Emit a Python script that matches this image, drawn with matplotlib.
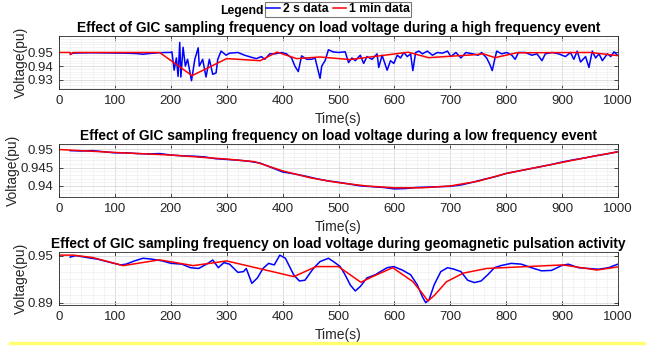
import matplotlib
matplotlib.use("Agg")
import matplotlib.pyplot as plt
from matplotlib.ticker import AutoMinorLocator, FixedLocator
from matplotlib.lines import Line2D

plt.rcParams['font.family'] = ['Liberation Sans', 'DejaVu Sans']

# ---------------- Panel 1: high frequency event ----------------
t1_blue = [20, 25, 40, 60, 80, 100, 120, 140, 150, 160, 175, 190, 199, 202, 206, 210, 213, 216, 218, 222,
           226, 230, 237, 243, 249, 251, 257, 263, 269, 275, 281, 284, 290, 299, 305, 320, 332, 344, 353, 362,
           368, 377, 386, 398, 407, 416, 422, 428, 434, 443, 452, 458, 467, 470, 476, 482, 490, 500, 512, 518,
           524, 530, 539, 545, 551, 560, 569, 572, 578, 587, 593, 599, 605, 611, 617, 623, 629, 633, 638, 644,
           650, 659, 668, 677, 686, 695, 701, 710, 719, 728, 740, 750, 756, 765, 771, 775, 780, 783, 792, 801,
           810, 816, 822, 834, 846, 855, 864, 870, 882, 894, 906, 915, 921, 927, 933, 942, 948, 954, 960, 966,
           972, 981, 987, 993, 999]
v1_blue = [0.9488, 0.9495, 0.9497, 0.9498, 0.9497, 0.9496, 0.9495, 0.9492, 0.9487, 0.9492, 0.9497, 0.9500, 0.9500, 0.9505, 0.9370, 0.9460, 0.9324, 0.9574, 0.9320, 0.9538,
           0.9400, 0.9450, 0.9293, 0.9450, 0.9534, 0.9400, 0.9450, 0.9320, 0.9450, 0.9340, 0.9350, 0.9450, 0.9510, 0.9480, 0.9495, 0.9500, 0.9480, 0.9465, 0.9455, 0.9470,
           0.9450, 0.9490, 0.9490, 0.9500, 0.9490, 0.9460, 0.9400, 0.9360, 0.9475, 0.9450, 0.9450, 0.9460, 0.9310, 0.9400, 0.9440, 0.9520, 0.9505, 0.9500, 0.9505, 0.9426,
           0.9460, 0.9440, 0.9480, 0.9420, 0.9470, 0.9450, 0.9490, 0.9390, 0.9480, 0.9370, 0.9440, 0.9420, 0.9480, 0.9460, 0.9500, 0.9470, 0.9490, 0.9367, 0.9500, 0.9510,
           0.9490, 0.9510, 0.9480, 0.9500, 0.9495, 0.9510, 0.9470, 0.9500, 0.9460, 0.9500, 0.9490, 0.9480, 0.9500, 0.9460, 0.9410, 0.9367, 0.9460, 0.9510, 0.9490, 0.9500,
           0.9480, 0.9450, 0.9500, 0.9500, 0.9480, 0.9490, 0.9440, 0.9490, 0.9500, 0.9490, 0.9470, 0.9500, 0.9450, 0.9510, 0.9430, 0.9470, 0.9390, 0.9510, 0.9460, 0.9490,
           0.9440, 0.9490, 0.9470, 0.9505, 0.9480]
t1_red = [0, 20, 21, 25, 180, 238, 300, 360, 390, 425, 467, 520, 625, 661, 741, 759, 780, 819, 950, 1000]
v1_red = [0.9500, 0.9500, 0.9485, 0.9500, 0.9500, 0.9330, 0.9455, 0.9440, 0.9503, 0.9455, 0.9467, 0.9448,
          0.9502, 0.9462, 0.9483, 0.9490, 0.9462, 0.9498, 0.9500, 0.9477]

# ---------------- Panel 2: low frequency event ----------------
t2_blue = [20, 40, 60, 80, 100, 120, 140, 160, 180, 200, 220, 240, 260, 280, 300, 320, 340, 360, 380, 400,
           420, 440, 460, 480, 500, 520, 540, 560, 580, 600, 620, 640, 660, 680, 700, 720, 740, 760, 780, 800,
           820, 840, 860, 880, 900, 920, 940, 960, 980, 1000]
v2_blue = [0.9496, 0.9495, 0.9496, 0.9493, 0.9490, 0.9490, 0.9488, 0.9487, 0.9488, 0.9484, 0.9482, 0.9481, 0.9479, 0.9474, 0.9472, 0.9470, 0.9467, 0.9462, 0.9450, 0.9438,
           0.9433, 0.9427, 0.9420, 0.9414, 0.9410, 0.9405, 0.9400, 0.9398, 0.9396, 0.9392, 0.9393, 0.9396, 0.9397, 0.9398, 0.9399, 0.9403, 0.9410, 0.9418, 0.9425, 0.9434,
           0.9440, 0.9446, 0.9452, 0.9458, 0.9465, 0.9471, 0.9476, 0.9482, 0.9487, 0.9493]
t2_red = [0, 100, 200, 300, 350, 400, 450, 480, 500, 550, 600, 650, 700, 750, 800, 850, 900, 950, 1000]
v2_red = [0.9499, 0.9491, 0.9484, 0.9473, 0.9466, 0.9441, 0.9422, 0.9414, 0.9409, 0.9400, 0.9395, 0.9395,
          0.9400, 0.9413, 0.9434, 0.9449, 0.9464, 0.9479, 0.9493]

# ---------------- Panel 3: geomagnetic pulsation ----------------
t3_blue = [20, 30, 50, 70, 90, 110, 120, 135, 150, 165, 185, 200, 220, 235, 250, 265, 275, 285, 295, 305,
           320, 330, 335, 345, 355, 365, 375, 385, 395, 405, 420, 430, 440, 455, 467, 482, 491, 503, 512, 521,
           530, 539, 551, 566, 575, 587, 599, 614, 629, 641, 650, 656, 662, 671, 683, 695, 707, 719, 731, 743,
           755, 767, 779, 791, 809, 827, 845, 863, 881, 899, 911, 929, 947, 965, 983, 1000]
v3_blue = [0.9485, 0.9504, 0.9480, 0.9457, 0.9420, 0.9385, 0.9395, 0.9436, 0.9470, 0.9460, 0.9436, 0.9406, 0.9395, 0.9350, 0.9340, 0.9400, 0.9448, 0.9350, 0.9415, 0.9395,
           0.9290, 0.9300, 0.9340, 0.9150, 0.9220, 0.9340, 0.9405, 0.9385, 0.9510, 0.9470, 0.9257, 0.9180, 0.9190, 0.9340, 0.9428, 0.9470, 0.9428, 0.9364, 0.9257, 0.9130,
           0.9053, 0.9110, 0.9220, 0.9260, 0.9300, 0.9350, 0.9364, 0.9320, 0.9260, 0.9130, 0.8980, 0.8904, 0.8940, 0.9130, 0.9300, 0.9350, 0.9330, 0.9300, 0.9190, 0.9160,
           0.9180, 0.9260, 0.9350, 0.9377, 0.9405, 0.9395, 0.9350, 0.9310, 0.9315, 0.9377, 0.9395, 0.9350, 0.9340, 0.9330, 0.9350, 0.9395]
t3_red = [0, 25, 60, 115, 180, 240, 300, 420, 460, 500, 540, 561, 597, 633, 648, 660, 672, 693, 723, 765,
          825, 902, 962, 1000]
v3_red = [0.9510, 0.9510, 0.9480, 0.9376, 0.9450, 0.9376, 0.9436, 0.9236, 0.9364, 0.9364, 0.9164, 0.9236,
          0.9350, 0.9172, 0.9040, 0.8925, 0.9000, 0.9170, 0.9280, 0.9340, 0.9360, 0.9385, 0.9320, 0.9360]

titles = ["Effect of GIC sampling frequency on load voltage during a high frequency event",
          "Effect of GIC sampling frequency on load voltage during a low frequency event",
          "Effect of GIC sampling frequency on load voltage during geomagnetic pulsation activity"]
yticks_list = [[0.93, 0.94, 0.95], [0.94, 0.945, 0.95], [0.89, 0.95]]
yticklabels_list = [["0.93", "0.94", "0.95"], ["0.94", "0.945", "0.95"], ["0.89", "0.95"]]
ylims = [(0.9232, 0.9621), (0.9370, 0.9514), (0.8874, 0.9550)]
xticks = [0, 100, 200, 300, 400, 500, 600, 700, 800, 900, 1000]

W, H = 646, 346
fig = plt.figure(figsize=(W / 100, H / 100), dpi=100)
fig.patch.set_facecolor('white')

tops = [36, 144, 252]
ax_h = 53
left_px, right_px = 59, 618
series = [(t1_blue, v1_blue, t1_red, v1_red), (t2_blue, v2_blue, t2_red, v2_red), (t3_blue, v3_blue, t3_red, v3_red)]
edge = '#262626'
handles = None
for i in range(3):
    ax = fig.add_axes([left_px / W, 1 - (tops[i] + ax_h) / H, (right_px - left_px) / W, ax_h / H])
    tb, vb, tr, vr = series[i]
    hb, = ax.plot(tb, vb, color='#0000ff', lw=1.1)
    hr, = ax.plot(tr, vr, color='#ff0000', lw=1.1)
    handles = [hb, hr]
    ax.set_xlim(0, 1000)
    ax.set_ylim(*ylims[i])
    ax.set_xticks(xticks)
    ax.set_yticks(yticks_list[i])
    ax.set_yticklabels(yticklabels_list[i])
    ax.xaxis.set_minor_locator(AutoMinorLocator(5))
    if i == 2:
        ax.yaxis.set_minor_locator(FixedLocator([0.90, 0.91, 0.92, 0.93, 0.94]))
    else:
        ax.yaxis.set_minor_locator(AutoMinorLocator(5))
    ax.grid(True, which='major', color='#d9d9d9', lw=0.6)
    ax.grid(True, which='minor', color='#eeeeee', lw=0.5)
    ax.set_axisbelow(True)
    ax.tick_params(which='major', direction='in', length=3, width=0.6, colors=edge,
                   labelsize=9.5, top=True, right=True, pad=4, labelcolor='#262626')
    ax.tick_params(which='minor', length=0, top=True, right=True)
    for sp in ax.spines.values():
        sp.set_color(edge)
        sp.set_linewidth(0.6)
    ax.set_xlabel("Time(s)", fontsize=10, labelpad=4, color='#262626')
    ax.set_ylabel("Voltage(pu)", fontsize=10, labelpad=0, color='#262626')
    ax.set_title(titles[i], fontsize=9.9, fontweight='bold', pad=3, color='black')

leg = fig.legend(handles, ["2 s data", "1 min data"], loc='upper center',
                 bbox_to_anchor=(338 / W, 1 - 2 / H), ncol=2, frameon=True, fancybox=False,
                 edgecolor='#555555', prop={'weight': 'bold', 'size': 8.8},
                 handlelength=1.1, handletextpad=0.25, columnspacing=0.35, borderpad=0.12,
                 borderaxespad=0.0)
leg.get_frame().set_linewidth(0.8)
fig.text(264 / W, 1 - 11 / H, "Legend", ha='right', va='center', fontsize=8.8, fontweight='bold')

fig.add_artist(Line2D([10 / W, 1.0], [1 - 343 / H, 1 - 343 / H], transform=fig.transFigure,
                      color='#ffff70', lw=2.5))

fig.savefig("out.png", dpi=100)
